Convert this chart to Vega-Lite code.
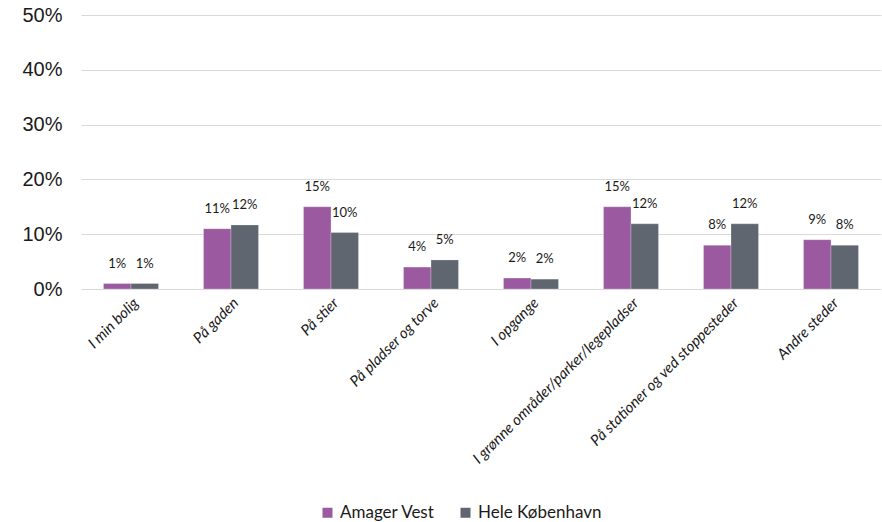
{
  "$schema": "https://vega.github.io/schema/vega-lite/v6.json",
  "width": 800,
  "height": 274,
  "autosize": {"type": "none"},
  "padding": {"left": 81, "top": 15, "right": 1, "bottom": 233},
  "background": "#ffffff",
  "config": {"view": {"stroke": null}},
  "data": {
    "values": [
      {"sted": "I min bolig", "serie": "Amager Vest", "andel": 0.01},
      {"sted": "I min bolig", "serie": "Hele København", "andel": 0.01},
      {"sted": "På gaden", "serie": "Amager Vest", "andel": 0.11},
      {"sted": "På gaden", "serie": "Hele København", "andel": 0.117},
      {"sted": "På stier", "serie": "Amager Vest", "andel": 0.15},
      {"sted": "På stier", "serie": "Hele København", "andel": 0.103},
      {"sted": "På pladser og torve", "serie": "Amager Vest", "andel": 0.04},
      {"sted": "På pladser og torve", "serie": "Hele København", "andel": 0.053},
      {"sted": "I opgange", "serie": "Amager Vest", "andel": 0.02},
      {"sted": "I opgange", "serie": "Hele København", "andel": 0.018},
      {"sted": "I grønne områder/parker/legepladser", "serie": "Amager Vest", "andel": 0.15},
      {"sted": "I grønne områder/parker/legepladser", "serie": "Hele København", "andel": 0.119},
      {"sted": "På stationer og ved stoppesteder", "serie": "Amager Vest", "andel": 0.08},
      {"sted": "På stationer og ved stoppesteder", "serie": "Hele København", "andel": 0.119},
      {"sted": "Andre steder", "serie": "Amager Vest", "andel": 0.09},
      {"sted": "Andre steder", "serie": "Hele København", "andel": 0.08}
    ]
  },
  "encoding": {
    "x": {
      "field": "sted",
      "type": "nominal",
      "sort": null,
      "title": null,
      "scale": {"paddingInner": 0.45, "paddingOuter": 0.225},
      "axis": {
        "labelAngle": -45,
        "labelFont": "Lato",
        "labelFontStyle": "italic",
        "labelFontSize": 15,
        "labelColor": "#1a1a1a",
        "labelLimit": 400,
        "ticks": false,
        "domain": false,
        "labelPadding": 6
      }
    },
    "xOffset": {"field": "serie", "type": "nominal", "sort": ["Amager Vest", "Hele København"]},
    "y": {
      "field": "andel",
      "type": "quantitative",
      "title": null,
      "scale": {"domain": [0, 0.5], "nice": false},
      "axis": {
        "format": ".0%",
        "values": [0, 0.1, 0.2, 0.3, 0.4, 0.5],
        "labelFont": "Liberation Sans",
        "labelFontSize": 20,
        "labelColor": "#1a1a1a",
        "labelPadding": 19,
        "ticks": false,
        "domain": false,
        "gridColor": "#d9d9d9",
        "gridWidth": 1
      }
    }
  },
  "layer": [
    {
      "mark": {"type": "bar", "stroke": "#ffffff", "strokeWidth": 0.5, "strokeOpacity": 0.5},
      "encoding": {
        "color": {
          "field": "serie",
          "type": "nominal",
          "sort": ["Amager Vest", "Hele København"],
          "scale": {"domain": ["Amager Vest", "Hele København"], "range": ["#9b59a0", "#5f6670"]},
          "legend": {
            "title": null,
            "orient": "none",
            "direction": "horizontal",
            "legendX": 238,
            "legendY": 489,
            "symbolType": "square",
            "symbolSize": 100,
            "symbolStrokeWidth": 0,
            "labelFont": "Lato",
            "labelFontSize": 17,
            "labelColor": "#1a1a1a",
            "labelOffset": 4,
            "columnPadding": 22
          }
        }
      }
    },
    {
      "mark": {"type": "text", "dy": -20, "font": "Lato", "fontSize": 13, "color": "#1a1a1a"},
      "encoding": {
        "text": {"field": "andel", "type": "quantitative", "format": ".0%"}
      }
    }
  ]
}
